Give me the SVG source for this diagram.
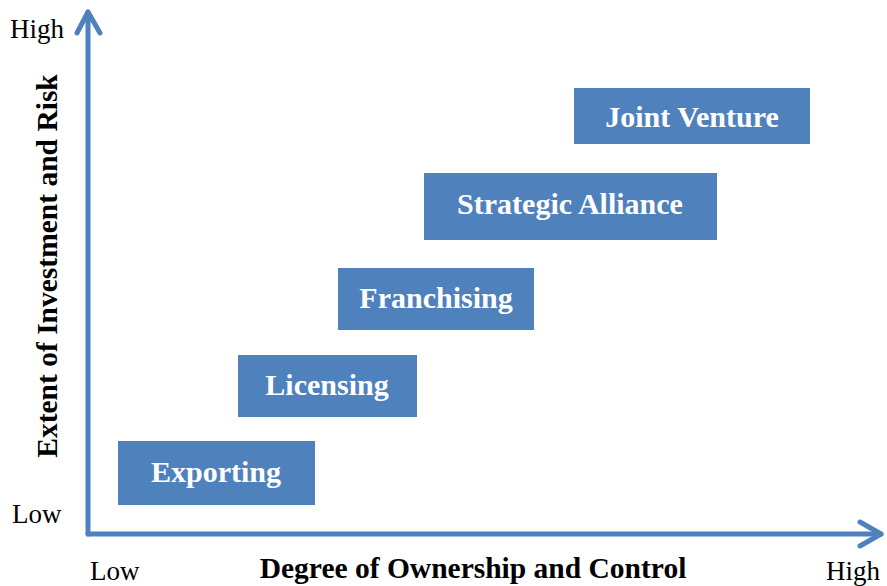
<svg xmlns="http://www.w3.org/2000/svg" width="887" height="586" viewBox="0 0 887 586">
  <style>
    .box { fill: #4F81BD; }
    .lbl { font-family: "Liberation Serif", "Times New Roman", serif; font-weight: bold; font-size: 30px; fill: #FFFFFF; text-anchor: middle; }
    .tick { font-family: "Liberation Serif", "Times New Roman", serif; font-size: 27px; fill: #000000; }
    .title { font-family: "Liberation Serif", "Times New Roman", serif; font-weight: bold; font-size: 29.5px; fill: #000000; text-anchor: middle; }
    .axis { stroke: #4F81BD; stroke-width: 5; fill: none; stroke-linecap: round; stroke-linejoin: round; }
  </style>
  <rect width="887" height="586" fill="#FFFFFF"/>

  <!-- axes -->
  <g id="connectors">
    <path class="axis" d="M88,534 L88,12"/>
    <path class="axis" d="M77,33 L88,12 L100,33"/>
    <path class="axis" d="M88,534 L881,534"/>
    <path class="axis" d="M860,522 L881,534 L860,546"/>
  </g>

  <!-- axis labels -->
  <text class="tick" x="10" y="38">High</text>
  <text class="tick" x="12" y="523">Low</text>
  <text class="tick" x="90" y="580">Low</text>
  <text class="tick" x="826" y="580">High</text>
  <text class="title" x="473" y="578">Degree of Ownership and Control</text>
  <text class="title" transform="translate(57,266) rotate(-90)">Extent of Investment and Risk</text>

  <g id="exporting">
    <rect class="box" x="118" y="441" width="197" height="64"/>
    <text class="lbl" x="216" y="482">Exporting</text>
  </g>
  <g id="licensing">
    <rect class="box" x="238" y="355" width="179" height="62"/>
    <text class="lbl" x="327" y="395">Licensing</text>
  </g>
  <g id="franchising">
    <rect class="box" x="338" y="268" width="196" height="62"/>
    <text class="lbl" x="436" y="308">Franchising</text>
  </g>
  <g id="strategic-alliance">
    <rect class="box" x="424" y="173" width="293" height="67"/>
    <text class="lbl" x="570" y="214">Strategic Alliance</text>
  </g>
  <g id="joint-venture">
    <rect class="box" x="574" y="88" width="236" height="56"/>
    <text class="lbl" x="692" y="127">Joint Venture</text>
  </g>
</svg>
